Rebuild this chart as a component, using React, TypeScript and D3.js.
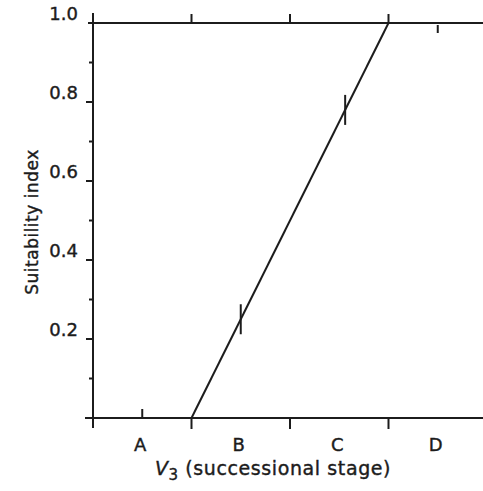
import React from 'react';
import * as d3 from 'd3';

// successional stage classes (x positions in stage units, 0..4)
const stageLabels = ['A', 'B', 'C', 'D'];
const stageBounds = [0, 1, 2, 3];
const yTicksMajor = [0.2, 0.4, 0.6, 0.8, 1.0];
const yTicksMinor = [0.1, 0.3, 0.5, 0.7, 0.9];

// suitability curve
const curveX = [1, 3];
const curveY = [0, 1];

// short marks crossing the curve
const markX = [1.5, 2.56];
const markY = [0.25, 0.78];

const W = 483;
const H = 491;
const FONT = '"DejaVu Sans", "Liberation Sans", Arial, sans-serif';
const INK = '#1c1c1c';

export default function App() {
  const x = d3.scaleLinear().domain([0, 4]).range([93, 487]);
  const y = d3.scaleLinear().domain([0, 1]).range([418, 23]);

  const line = d3.line<number>()
    .x((_, i) => x(curveX[i]))
    .y(d => y(d));

  const y0 = y(0);
  const y1 = y(1);
  const txt = { fill: INK, stroke: INK, strokeWidth: 0.4 };

  return (
    <svg width={W} height={H} style={{ position: 'absolute', left: 0, top: 0, background: '#fff' }}
      fontFamily={FONT}>
      {/* left axis */}
      <line x1={x(0)} x2={x(0)} y1={y1 - 10} y2={y0 + 10} stroke={INK} strokeWidth={2} />
      {/* bottom axis */}
      <line x1={x(0) - 8} x2={W} y1={y0} y2={y0} stroke={INK} strokeWidth={2} />
      {/* top line at 1.0 */}
      <line x1={x(0) - 5} x2={W} y1={y1} y2={y1} stroke={INK} strokeWidth={2} />

      {/* y ticks */}
      {yTicksMajor.map(t => (
        <g key={'ym' + t}>
          {t < 1 && <line x1={x(0) - 7} x2={x(0)} y1={y(t)} y2={y(t)} stroke={INK} strokeWidth={2} />}
          <text x={78} y={y(t) - 3} textAnchor="end" fontSize={18} {...txt}>{t.toFixed(1)}</text>
        </g>
      ))}
      {yTicksMinor.map(t => (
        <line key={'yn' + t} x1={x(0) - 4} x2={x(0)} y1={y(t)} y2={y(t)} stroke={INK} strokeWidth={2} />
      ))}

      {/* bottom ticks: boundaries down, stage A midpoint up */}
      {stageBounds.slice(1).map(b => (
        <line key={'bb' + b} x1={x(b)} x2={x(b)} y1={y0} y2={y0 + 11} stroke={INK} strokeWidth={2} />
      ))}
      <line x1={x(0.5)} x2={x(0.5)} y1={y0} y2={y0 - 9} stroke={INK} strokeWidth={2} />

      {/* top ticks: boundaries up, stage D midpoint down */}
      {stageBounds.slice(1).map(b => (
        <line key={'tb' + b} x1={x(b)} x2={x(b)} y1={y1} y2={y1 - 9} stroke={INK} strokeWidth={2} />
      ))}
      <line x1={x(3.5)} x2={x(3.5)} y1={y1 + 2} y2={y1 + 10} stroke={INK} strokeWidth={2} />

      {/* stage labels */}
      {stageLabels.map((s, i) => (
        <text key={s} x={x(i + 0.5) - 2} y={451} textAnchor="middle" fontSize={18} {...txt}>{s}</text>
      ))}

      {/* curve */}
      <path d={line(curveY) || ''} fill="none" stroke={INK} strokeWidth={2} />
      {markX.map((m, i) => (
        <line key={'mk' + i} x1={x(m)} x2={x(m)} y1={y(markY[i]) - 15} y2={y(markY[i]) + 15}
          stroke={INK} strokeWidth={2} />
      ))}

      {/* axis titles */}
      <text x={273} y={475} textAnchor="middle" fontSize={19} letterSpacing={0.6} {...txt}>
        <tspan fontStyle="italic">V</tspan>
        <tspan fontSize={15} dy={5}>3</tspan>
        <tspan dy={-5}> (successional stage)</tspan>
      </text>
      <text transform="translate(38,222) rotate(-90)" textAnchor="middle" fontSize={17}
        letterSpacing={0.5} {...txt}>
        Suitability index
      </text>
    </svg>
  );
}
